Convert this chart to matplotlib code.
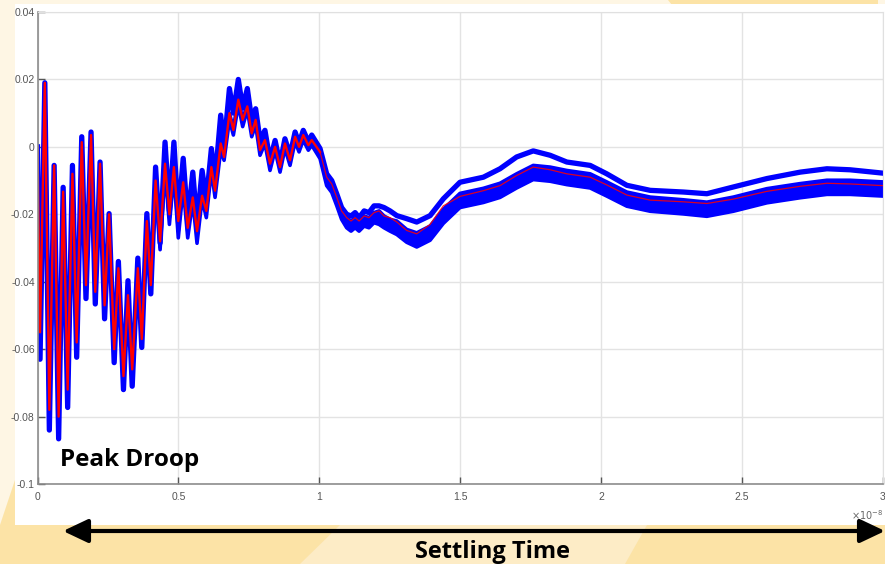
import matplotlib
matplotlib.use("Agg")
import matplotlib.pyplot as plt
from matplotlib.patches import Rectangle, Polygon, FancyArrowPatch
from matplotlib.ticker import FuncFormatter

# time axis in units of 1e-8 s
t_e8 = [0.000, 0.009, 0.026, 0.042, 0.059, 0.075, 0.091, 0.107, 0.124, 0.139,
        0.157, 0.172, 0.190, 0.205, 0.222, 0.238, 0.254, 0.272, 0.287, 0.305,
        0.321, 0.336, 0.356, 0.370, 0.388, 0.402, 0.419, 0.435,
        0.4525, 0.468, 0.484, 0.4995, 0.517, 0.533, 0.551, 0.566, 0.584, 0.599,
        0.617, 0.630, 0.650, 0.662, 0.681, 0.695, 0.7125, 0.728, 0.7445, 0.760,
        0.774, 0.7895, 0.807, 0.825, 0.843, 0.8605, 0.878, 0.896, 0.914, 0.928,
        0.943, 0.961, 0.973,
        1.0025, 1.026, 1.044, 1.062, 1.079, 1.097, 1.1125, 1.127, 1.141, 1.159,
        1.176, 1.194, 1.212, 1.2296, 1.251, 1.275, 1.310, 1.3456, 1.393, 1.440,
        1.499, 1.582, 1.641, 1.700, 1.759, 1.819, 1.878, 1.961, 2.020, 2.091,
        2.174, 2.292, 2.375, 2.469, 2.588, 2.706, 2.801, 2.883, 3.000]

# nominal run (red)
v_nominal = [0.0, -0.055, 0.019, -0.078, -0.0055, -0.080, -0.0133, -0.072, -0.008, -0.058,
             0.0014, -0.041, 0.0035, -0.043, -0.005, -0.047, -0.020, -0.060, -0.036, -0.068,
             -0.044, -0.066, -0.036, -0.057, -0.022, -0.041, -0.010, -0.028,
             -0.005, -0.020, -0.006, -0.022, -0.0105, -0.024, -0.015, -0.025, -0.0145, -0.019,
             -0.006, -0.013, 0.001, -0.003, 0.010, 0.005, 0.014, 0.008, 0.012, 0.004,
             0.008, -0.001, 0.002, -0.005, 0.0, -0.006, 0.001, -0.004, 0.003, 0.0,
             0.0035, 0.0005, 0.002,
             -0.0015, -0.009, -0.011, -0.015, -0.019, -0.021, -0.022, -0.021, -0.022, -0.0205,
             -0.021, -0.0195, -0.019, -0.0205, -0.021, -0.0223, -0.0248, -0.0258, -0.023, -0.0175,
             -0.0147, -0.013, -0.0115, -0.0085, -0.006, -0.0068, -0.008, -0.009, -0.0113, -0.0143,
             -0.0158, -0.0163, -0.0168, -0.0155, -0.0132, -0.0117, -0.0108, -0.011, -0.0115]

# monte carlo runs (blue): upper group, lower group top edge, lower group bottom edge
v_mc_upper = [0.0, -0.063, 0.019, -0.084, -0.0055, -0.0866, -0.012, -0.0773, -0.0055, -0.0624,
              0.003, -0.045, 0.0044, -0.0466, -0.0045, -0.051, -0.0198, -0.064, -0.034, -0.072,
              -0.0397, -0.071, -0.033, -0.0595, -0.0198, -0.0436, -0.006, -0.0285,
              0.0014, -0.019, 0.0014, -0.021, -0.0034, -0.022, -0.0075, -0.023, -0.007, -0.016,
              -0.0005, -0.010, 0.0094, 0.0, 0.0173, 0.010, 0.020, 0.0115, 0.0173, 0.008,
              0.0113, 0.002, 0.0049, -0.004, 0.0019, -0.005, 0.0024, -0.0025, 0.0044, 0.001,
              0.0049, 0.0015, 0.0035,
              -0.0005, -0.008, -0.010, -0.014, -0.018, -0.020, -0.0205, -0.0195, -0.021, -0.019,
              -0.0195, -0.0175, -0.0175, -0.018, -0.019, -0.0204, -0.0213, -0.0223, -0.0204, -0.0154,
              -0.0105, -0.009, -0.0065, -0.003, -0.0012, -0.0025, -0.0045, -0.0055, -0.008, -0.0114,
              -0.0129, -0.0134, -0.0139, -0.0119, -0.0094, -0.0075, -0.0065, -0.0068, -0.0078]

v_mc_low_top = [0.0, -0.063, 0.019, -0.084, -0.0055, -0.0866, -0.012, -0.0773, -0.0055, -0.0624,
                0.003, -0.045, 0.0044, -0.0466, -0.0045, -0.051, -0.0198, -0.064, -0.034, -0.072,
                -0.0397, -0.071, -0.033, -0.0595, -0.0198, -0.0436, -0.008, -0.0298,
                -0.005, -0.021, -0.006, -0.025, -0.010, -0.025, -0.014, -0.026, -0.0135, -0.019,
                -0.005, -0.013, 0.001, -0.002, 0.010, 0.0055, 0.0145, 0.008, 0.0128, 0.005,
                0.0085, -0.0005, 0.003, -0.005, 0.0008, -0.0055, 0.0013, -0.0035, 0.0033, 0.0003,
                0.0038, 0.0008, 0.0023,
                -0.0015, -0.009, -0.011, -0.015, -0.019, -0.021, -0.022, -0.021, -0.022, -0.0205,
                -0.021, -0.0195, -0.019, -0.0205, -0.0215, -0.022, -0.0245, -0.0255, -0.0235, -0.0185,
                -0.0138, -0.0123, -0.0108, -0.008, -0.0055, -0.006, -0.007, -0.008, -0.0104, -0.0134,
                -0.0149, -0.0157, -0.0164, -0.0149, -0.0124, -0.0109, -0.0099, -0.0099, -0.0104]

v_mc_low_bot = [0.0, -0.063, 0.019, -0.084, -0.0055, -0.0866, -0.012, -0.0773, -0.0055, -0.0624,
                0.003, -0.045, 0.0044, -0.0466, -0.0045, -0.051, -0.0198, -0.064, -0.034, -0.072,
                -0.0397, -0.071, -0.033, -0.0595, -0.0198, -0.0436, -0.009, -0.0305,
                -0.007, -0.023, -0.008, -0.027, -0.012, -0.027, -0.016, -0.0286, -0.0155, -0.021,
                -0.007, -0.015, -0.001, -0.004, 0.008, 0.0035, 0.0125, 0.006, 0.011, 0.003,
                0.0065, -0.0025, 0.001, -0.007, -0.001, -0.0075, -0.0005, -0.0055, 0.0015, -0.0015,
                0.002, -0.001, 0.0005,
                -0.0035, -0.0115, -0.0135, -0.0175, -0.0215, -0.024, -0.025, -0.024, -0.025, -0.0235,
                -0.024, -0.0225, -0.023, -0.024, -0.025, -0.026, -0.0283, -0.0297, -0.0277, -0.0227,
                -0.0180, -0.0165, -0.015, -0.0122, -0.0097, -0.0102, -0.0112, -0.0122, -0.0146, -0.0176,
                -0.0191, -0.0199, -0.0206, -0.0191, -0.0166, -0.0151, -0.0141, -0.0141, -0.0146]

x_ticks = [0, 0.5, 1, 1.5, 2, 2.5, 3]
y_ticks = [-0.1, -0.08, -0.06, -0.04, -0.02, 0, 0.02, 0.04]

W, H = 885, 564
plt.rcParams['font.family'] = ['Liberation Sans Narrow', 'Liberation Sans', 'DejaVu Sans']
plt.rcParams['mathtext.fontset'] = 'dejavusans'

fig = plt.figure(figsize=(W / 100, H / 100), dpi=100)
fig.patch.set_facecolor('#FEF6E4')


def fx(px):
    return px / W


def fy(py):
    return 1 - py / H


# slide background
bg = [
    ([(0, 525), (885, 525), (885, 564), (0, 564)], '#FCE3A6'),
    ([(0, 525), (15, 480), (15, 525)], '#FCE3A6'),
    ([(340, 525), (647, 525), (625, 564), (300, 564)], '#FDECC6'),
    ([(668, 0), (878, 0), (878, 5), (672, 5)], '#FCE3A6'),
]
for pts, c in bg:
    fig.add_artist(Polygon([(fx(a), fy(b)) for a, b in pts], closed=True,
                           transform=fig.transFigure, facecolor=c, edgecolor='none', zorder=-10))
fig.add_artist(Rectangle((fx(15), fy(525)), fx(885 - 15), (525 - 4) / H,
                         transform=fig.transFigure, facecolor='white', edgecolor='none', zorder=-9))

ax = fig.add_axes([fx(37.5), fy(484), fx(883 - 37.5), (484 - 12) / H])
ax.set_facecolor('white')

ax.fill_between(t_e8, v_mc_low_bot, v_mc_low_top, color='#0000FF', lw=0)
ax.plot(t_e8, v_mc_low_top, color='#0000FF', lw=2.6)
ax.plot(t_e8, v_mc_low_bot, color='#0000FF', lw=2.6)
ax.plot(t_e8, v_mc_upper, color='#0000FF', lw=3.8)
# nominal run: clearly visible during the ringing, thin inside the band afterwards
ax.plot(t_e8[:62], v_nominal[:62], color='#FF0000', lw=1.7)
ax.plot(t_e8[61:], v_nominal[61:], color='#FF0000', lw=0.9, alpha=0.85)

ax.set_xlim(0, 3)
ax.set_ylim(-0.1, 0.04)
ax.set_xticks(x_ticks)
ax.set_yticks(y_ticks)
fmt = FuncFormatter(lambda v, p: '%g' % round(v, 4))
ax.xaxis.set_major_formatter(fmt)
ax.yaxis.set_major_formatter(fmt)
ax.grid(True, color='#E3E3E3', lw=1)
ax.set_axisbelow(True)
ax.tick_params(direction='in', length=5, width=1, color='#555555', labelcolor='#555555',
               labelsize=7.5, top=False, right=False)
ax.tick_params(axis='x', pad=6)
ax.tick_params(axis='y', pad=2)
for s in ['left', 'bottom']:
    ax.spines[s].set_color('#8C8C8C')
    ax.spines[s].set_linewidth(1.2)
for s in ['top', 'right']:
    ax.spines[s].set_color('#E0E0E0')

fig.text(fx(883), fy(520), r'$\times10^{-8}$', ha='right', va='baseline',
         fontsize=7, color='#666666')

ax.text(fx(60), fy(466), 'Peak Droop', transform=fig.transFigure, fontsize=17.5,
        fontweight='bold', family='Open Sans', color='black', va='baseline')

arrow = FancyArrowPatch((fx(63), fy(531)), (fx(885), fy(531)), transform=fig.transFigure,
                        arrowstyle='<|-|>,head_length=0.95,head_width=0.45', mutation_scale=16,
                        lw=3, color='black', shrinkA=0, shrinkB=0)
fig.add_artist(arrow)
fig.text(fx(493), fy(558), 'Settling Time', ha='center', va='baseline', fontsize=17,
         fontweight='bold', family='Open Sans', color='black')

fig.savefig('out.png', dpi=100, facecolor=fig.get_facecolor())
